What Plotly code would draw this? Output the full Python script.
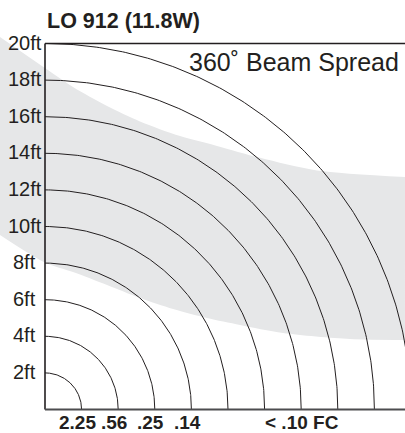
import numpy as np
import plotly.graph_objects as go

# ---- data ----
title = "LO 912 (11.8W)"
subtitle = "360˚ Beam Spread"
radii_ft = [2, 4, 6, 8, 10, 12, 14, 16, 18, 20]
height_labels = ["2ft", "4ft", "6ft", "8ft", "10ft", "12ft", "14ft", "16ft", "18ft", "20ft"]
fc_labels = ["2.25", ".56", ".25", ".14", "< .10 FC"]
fc_positions = [2, 4, 6, 8, 14]

# beam (grey band) boundaries, in feet
beam_upper_x = [-2.46, 0.0, 1.53, 3.39, 5.19, 7.38, 9.40, 11.75, 14.86, 19.67]
beam_upper_y = [20.36, 18.66, 17.62, 16.58, 15.74, 14.94, 14.40, 13.75, 13.06, 12.70]
beam_lower_x = [-2.46, 0.0, 1.53, 3.39, 5.19, 7.00, 8.85, 10.66, 13.01, 16.67, 19.67]
beam_lower_y = [9.54, 8.03, 7.51, 6.80, 6.09, 5.49, 5.00, 4.62, 4.18, 3.85, 3.80]

# ---- layout geometry ----
W, H = 405, 433
PX = 18.3           # pixels per foot
X0, Y0 = 45, 409.5  # pixel position of origin
xr = [-X0 / PX, (W - X0) / PX]
yr = [-(H - Y0) / PX, Y0 / PX]
XMAX = xr[1]
YMAX = max(radii_ft)

INK = "#231f20"
FONT = "Liberation Sans, Arial, Helvetica, sans-serif"

fig = go.Figure()

# grey beam band
fig.add_trace(go.Scatter(x=beam_upper_x, y=beam_upper_y, mode="lines",
                         line=dict(color="rgba(0,0,0,0)", width=0, shape="spline", smoothing=0.8),
                         hoverinfo="skip", showlegend=False))
fig.add_trace(go.Scatter(x=beam_lower_x, y=beam_lower_y, mode="lines",
                         line=dict(color="rgba(0,0,0,0)", width=0, shape="spline", smoothing=0.8),
                         fill="tonexty", fillcolor="#e6e7e8",
                         hoverinfo="skip", showlegend=False))

# arcs
t = np.linspace(0, np.pi / 2, 200)
for r in radii_ft:
    fig.add_trace(go.Scatter(x=r * np.cos(t), y=r * np.sin(t), mode="lines",
                             line=dict(color=INK, width=1),
                             hoverinfo="skip", showlegend=False))

# frame: left, top, bottom
fig.add_trace(go.Scatter(x=[0, 0], y=[0, YMAX], mode="lines",
                         line=dict(color=INK, width=1.6), hoverinfo="skip", showlegend=False))
fig.add_trace(go.Scatter(x=[0, XMAX], y=[YMAX, YMAX], mode="lines",
                         line=dict(color=INK, width=1.6), hoverinfo="skip", showlegend=False))
fig.add_trace(go.Scatter(x=[0, XMAX], y=[0, 0], mode="lines",
                         line=dict(color="#4d4d4f", width=1.8), hoverinfo="skip", showlegend=False))

annotations = []
# height labels
for r, lab in zip(radii_ft, height_labels):
    two = len(lab) > 3
    annotations.append(dict(x=0, y=r, xref="x", yref="y", text=lab, showarrow=False,
                            xanchor="right", yanchor="middle",
                            xshift=-1 if two else -7, yshift=1,
                            font=dict(family=FONT, size=20, color=INK)))
# FC labels
for p, lab in zip(fc_positions, fc_labels):
    annotations.append(dict(x=p, y=0, xref="x", yref="y", text="<b>%s</b>" % lab.replace("<", "&lt;"),
                            showarrow=False, xanchor="center", yanchor="middle",
                            xshift=-4 if p < 10 else 1, yshift=-13,
                            font=dict(family=FONT, size=19, color=INK)))
# title
annotations.append(dict(x=0, y=1, xref="x", yref="paper", text="<b>%s</b>" % title,
                        showarrow=False, xanchor="left", yanchor="top", yshift=-7,
                        font=dict(family=FONT, size=21.5, color=INK)))
# subtitle
annotations.append(dict(x=XMAX, y=YMAX, xref="x", yref="y", text=subtitle,
                        showarrow=False, xanchor="right", yanchor="top", xshift=-4, yshift=-2,
                        font=dict(family=FONT, size=25, color=INK)))

fig.update_layout(
    width=W, height=H,
    margin=dict(l=0, r=0, t=0, b=0),
    paper_bgcolor="white", plot_bgcolor="white",
    xaxis=dict(range=xr, visible=False, fixedrange=True),
    yaxis=dict(range=yr, visible=False, fixedrange=True),
    annotations=annotations,
    showlegend=False,
)

fig.write_html("out.html", config={"displayModeBar": False},
               post_script="document.body.style.margin='0';document.body.style.padding='0';"
                           "document.body.style.overflow='hidden';")
